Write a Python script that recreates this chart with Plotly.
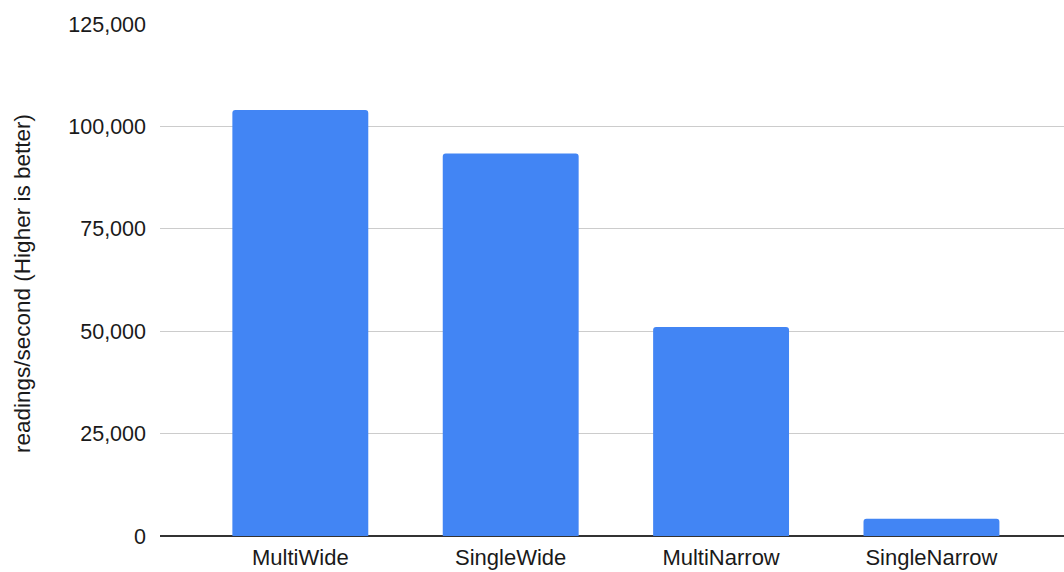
import plotly.graph_objects as go

# Throughput per storage layout
layouts = ["MultiWide", "SingleWide", "MultiNarrow", "SingleNarrow"]
readings_per_second = [104000, 93400, 51000, 4200]

y_ticks = [0, 25000, 50000, 75000, 100000, 125000]
y_tick_labels = ["0", "25,000", "50,000", "75,000", "100,000", "125,000"]

W, H = 1064, 572
L, R, T, B = 160, 0, 23.5, 35.5

fig = go.Figure(
    go.Bar(
        x=list(range(len(layouts))),
        y=readings_per_second,
        width=0.646,
        marker=dict(color="#4285F4", line=dict(width=0), cornerradius=3),
        hoverinfo="skip",
    )
)

fig.update_layout(
    width=W,
    height=H,
    margin=dict(l=L, r=R, t=T, b=B, autoexpand=False),
    paper_bgcolor="white",
    plot_bgcolor="white",
    showlegend=False,
    font=dict(family="Liberation Sans, Arial, sans-serif", color="#1a1a1a", size=21.5),
    xaxis=dict(
        range=[-0.667, 3.63],
        tickmode="array",
        tickvals=list(range(len(layouts))),
        ticktext=layouts,
        showgrid=False,
        zeroline=False,
        showline=False,
        ticks="",
        ticklabelstandoff=6,
        tickfont=dict(size=22, color="#1a1a1a"),
        fixedrange=True,
    ),
    yaxis=dict(
        range=[0, 125000],
        tickmode="array",
        tickvals=y_ticks,
        ticktext=y_tick_labels,
        showgrid=True,
        gridcolor="#cccccc",
        gridwidth=1.4,
        zeroline=True,
        zerolinecolor="#333333",
        zerolinewidth=2,
        showline=False,
        ticks="",
        ticklabelstandoff=13,
        tickfont=dict(size=21.5, color="#1a1a1a"),
        fixedrange=True,
    ),
    annotations=[
        dict(
            text="readings/second (Higher is better)",
            textangle=-90,
            xref="paper",
            yref="paper",
            x=(23 - L) / (W - L - R),
            y=(H - B - 284) / (H - T - B),
            xanchor="center",
            yanchor="middle",
            showarrow=False,
            font=dict(size=22.5, color="#1a1a1a"),
        )
    ],
)

fig.write_html("out.html")
